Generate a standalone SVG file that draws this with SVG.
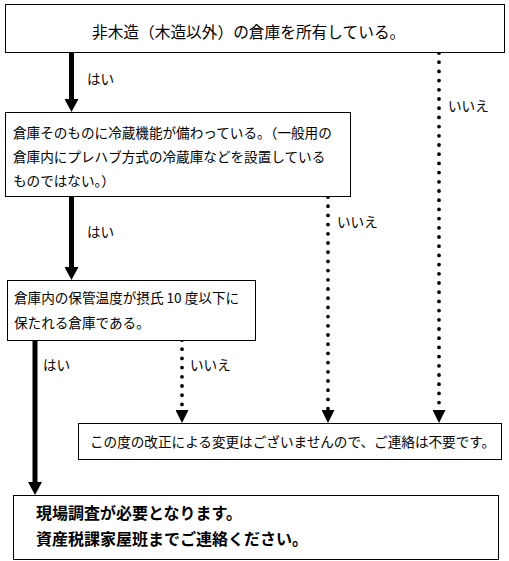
<svg xmlns="http://www.w3.org/2000/svg" width="509" height="561" viewBox="0 0 509 561">
<style>
.box{fill:#fff;stroke:#000;stroke-width:1}
.t{font-family:"Noto Sans CJK JP","Noto Sans",sans-serif;font-size:13.6px;fill:#000}
.t1{font-size:15.7px}
.tb{font-size:16px;font-weight:bold}
.solid{fill:none;stroke:#000;stroke-width:5}
.dot{fill:none;stroke:#000;stroke-width:3.8;stroke-linecap:round;stroke-dasharray:0 9.2}
</style>
<defs>
<marker id="ah" markerUnits="userSpaceOnUse" markerWidth="14" markerHeight="14" viewBox="0 -7 13 14" refX="0" refY="0" orient="auto"><path d="M0,-7 L13,0 L0,7 z" fill="#000"/></marker>
<marker id="ah2" markerUnits="userSpaceOnUse" markerWidth="13" markerHeight="13" viewBox="0 -6.5 13 13" refX="0" refY="0" orient="auto"><path d="M0,-6.5 L13,0 L0,6.5 z" fill="#000"/></marker>
</defs>
<rect width="509" height="561" fill="#fff"/>
<g id="connectors">
<path class="solid" d="M71.5,52 V99" marker-end="url(#ah)"/>
<path class="solid" d="M71.5,197 V267" marker-end="url(#ah)"/>
<path class="solid" d="M35,340 V482" marker-end="url(#ah)"/>
<path class="dot" d="M439,53 V410" marker-end="url(#ah2)"/>
<path class="dot" d="M328,197 V410" marker-end="url(#ah2)"/>
<path class="dot" d="M182,340 V410" marker-end="url(#ah2)"/>
<text class="t" x="87" y="84">はい</text>
<text class="t" x="87" y="237">はい</text>
<text class="t" x="43" y="370">はい</text>
<text class="t" x="448" y="111">いいえ</text>
<text class="t" x="337" y="227">いいえ</text>
<text class="t" x="190" y="370">いいえ</text>
</g>
<g id="n1">
<rect class="box" x="5.5" y="4.5" width="499" height="48"/>
<text class="t t1" x="92" y="37.5">非木造（木造以外）の倉庫を所有している。</text>
</g>
<g id="n2">
<rect class="box" x="5.5" y="112.5" width="345" height="84"/>
<text class="t" x="13" y="138">倉庫そのものに冷蔵機能が備わっている。（一般用の</text>
<text class="t" x="13" y="162">倉庫内にプレハブ方式の冷蔵庫などを設置している</text>
<text class="t" x="13" y="186">ものではない。）</text>
</g>
<g id="n3">
<rect class="box" x="7.5" y="280.5" width="248" height="60"/>
<text class="t" x="14" y="303">倉庫内の保管温度が摂氏 10 度以下に</text>
<text class="t" x="14" y="328">保たれる倉庫である。</text>
</g>
<g id="n4">
<rect class="box" x="78.5" y="423.5" width="423" height="36"/>
<text class="t" x="90" y="447">この度の改正による変更はございませんので、ご連絡は不要です。</text>
</g>
<g id="n5">
<rect class="box" x="13.5" y="495.5" width="485" height="64"/>
<text class="t tb" x="36" y="519">現場調査が必要となります。</text>
<text class="t tb" x="36" y="545">資産税課家屋班までご連絡ください。</text>
</g>
</svg>
